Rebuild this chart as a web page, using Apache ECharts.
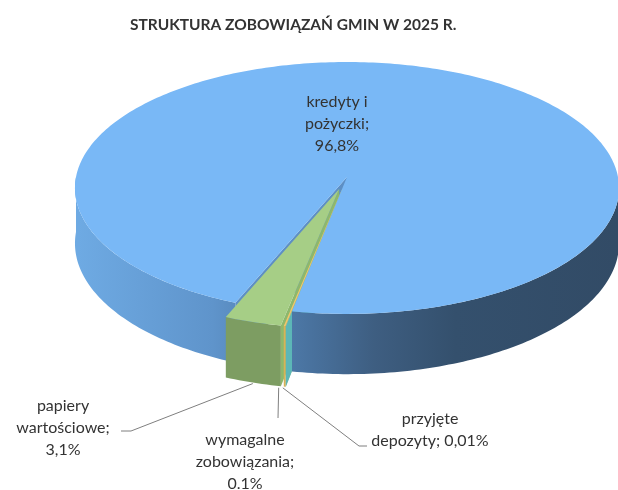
<!DOCTYPE html>
<html>
<head>
<meta charset="utf-8">
<script src="https://cdn.jsdelivr.net/npm/echarts/dist/echarts.min.js"></script>
<style>
html,body{margin:0;padding:0;background:#fff}
#chart{width:618px;height:490px}
</style>
</head>
<body>
<div id="chart"></div>
<script>
// dane
var categories = ['kredyty i pożyczki', 'papiery wartościowe', 'wymagalne zobowiązania', 'przyjęte depozyty'];
var shares = [96.8, 3.1, 0.1, 0.01];
var labelTexts = ['kredyty i\npożyczki;\n96,8%', 'papiery\nwartościowe;\n3,1%', 'wymagalne\nzobowiązania;\n0.1%', 'przyjęte\ndepozyty; 0,01%'];

// wyglad
var topColors = ['#79b8f6', '#a6ce86', '#f2c56b', '#65c1c1'];
var wallColors = [null, '#7d9d62', '#d9b257', '#5cb7b7'];
var faceColors = ['#5d8fc5', '#8db86c', '#e3b453', '#5cb7b7'];
var explode = [0, 0.1, 0.1, 0.1];
// pozycje etykiet i linii odniesienia
var labelLayout = [
    {x: 337, y: 124, line: null},
    {x: 63, y: 428, line: [[131, 431], [121, 431]], dx: 0},
    {x: 245, y: 462, line: [[278, 418]], dx: -6},
    {x: 430, y: 430, line: [[359, 446], [367, 446]], dx: -3}
];

var G = {cx: 347, cy: 177, rx: 271, ry: 125, h: 55, p: 0.087, start: 460.7};

function proj(u, v, hh) {
    var s = 1 / (1 - G.p * v);
    return [G.cx + G.rx * u * s, G.cy + (G.ry * v + G.h * hh) * s];
}

var total = shares.reduce(function (a, b) { return a + b; }, 0);

function renderSlice(params, api) {
    var i = params.dataIndex;
    var before = 0;
    for (var j = 0; j < i; j++) before += shares[j];
    var a1 = G.start - before / total * 360;
    var a0 = a1 - api.value(0) / total * 360;
    var mid = (a0 + a1) / 2 * Math.PI / 180;
    var eu = explode[i] * Math.cos(mid), ev = explode[i] * Math.sin(mid);
    var rad = Math.PI / 180;

    function pt(t, r, hh) {
        return proj(eu + r * Math.cos(t * rad), ev + r * Math.sin(t * rad), hh);
    }
    function arc(t0, t1, hh) {
        var n = Math.max(2, Math.ceil((t1 - t0) / 1));
        var out = [];
        for (var k = 0; k <= n; k++) out.push(pt(t0 + (t1 - t0) * k / n, 1, hh));
        return out;
    }

    var children = [];

    // sciany promieniowe
    var faces = [];
    if (Math.cos(a0 * rad) < 0) faces.push(a0);
    if (Math.cos(a1 * rad) > 0) faces.push(a1);
    faces.forEach(function (t) {
        children.push({
            type: 'polygon', z2: 10 + i,
            shape: {points: [pt(t, 0, 0), pt(t, 1, 0), pt(t, 1, 1), pt(t, 0, 1)]},
            style: {fill: faceColors[i]}
        });
    });

    // sciana zewnetrzna (tylko przednia polowa)
    var wallFill = wallColors[i] || {
        type: 'linear', x: 78, y: 0, x2: 617, y2: 0, global: true,
        colorStops: [
            {offset: 0, color: '#6eaae3'},
            {offset: 0.25, color: '#5f94cb'},
            {offset: 0.42, color: '#4a74a1'},
            {offset: 0.55, color: '#3e5e81'},
            {offset: 0.7, color: '#34506d'},
            {offset: 1, color: '#324b66'}
        ]
    };
    for (var k = -1; k <= 2; k++) {
        var lo = Math.max(a0, 360 * k), hi = Math.min(a1, 360 * k + 180);
        if (hi > lo) {
            var pts = arc(lo, hi, 0).concat(arc(lo, hi, 1).reverse());
            children.push({
                type: 'polygon', z2: 20 + i,
                shape: {points: pts},
                style: {fill: wallFill}
            });
        }
    }

    // gora
    children.push({
        type: 'polygon', z2: 30 + i,
        shape: {points: [pt(a0, 0, 0)].concat(arc(a0, a1, 0))},
        style: {fill: topColors[i]}
    });

    // etykieta
    var lay = labelLayout[i];
    children.push({
        type: 'text', z2: 50,
        style: {
            text: labelTexts[i], x: lay.x, y: lay.y,
            align: 'center', verticalAlign: 'middle',
            font: '16px Lato', lineHeight: 22, fill: '#333333'
        }
    });
    if (lay.line) {
        var anchor = pt(mid / rad, 1, 1);
        anchor = [anchor[0] + lay.dx, anchor[1] + 1];
        children.push({
            type: 'polyline', z2: 45,
            shape: {points: [anchor].concat(lay.line)},
            style: {stroke: '#7f7f7f', lineWidth: 1, fill: null}
        });
    }
    return {type: 'group', children: children};
}

var myChart = echarts.init(document.getElementById('chart'));
var option = {
    animation: false,
    title: {
        text: 'STRUKTURA ZOBOWIĄZAŃ GMIN W 2025 R.',
        left: 125, top: 12,
        textStyle: {fontFamily: 'Lato', fontSize: 15.5, fontWeight: 'bold', color: '#333333'}
    },
    series: [{
        type: 'custom',
        coordinateSystem: 'none',
        renderItem: renderSlice,
        data: shares.map(function (v, i) { return {name: categories[i], value: [v]}; })
    }]
};
myChart.setOption(option);
window.onresize = function () { myChart.resize(); };
</script>
</body>
</html>
